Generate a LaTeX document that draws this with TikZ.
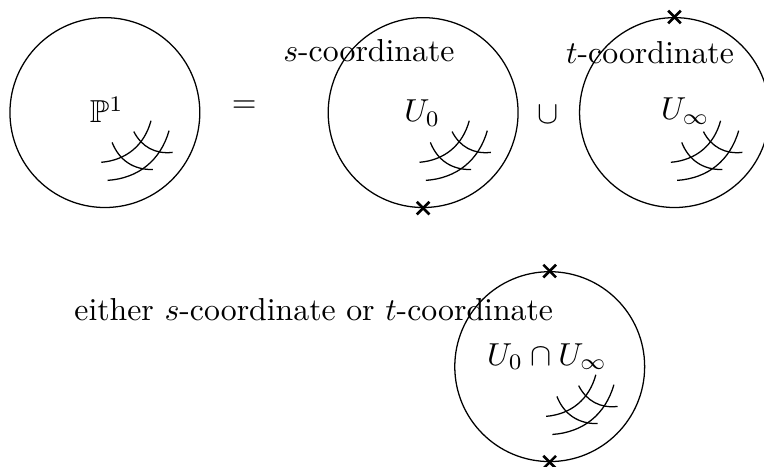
\documentclass[tikz,border=0pt]{standalone}
\usepackage{tikz}
\usepackage{amsmath}
\usepackage{amssymb}
\usetikzlibrary{shapes.misc, positioning, calc}

% four small curves standing for local coordinate lines
\newcommand{\gridlines}[1]{%
    \begin{scope}[shift={(#1.center)}]
        \draw (-0.04,-0.55) to[bend right=35] (0.51,-0.09);
        \draw (0.03,-0.75) to[bend right=35] (0.71,-0.20);
        \draw (0.08,-0.33) to[bend right=35] (0.53,-0.63);
        \draw (0.32,-0.21) to[bend right=35] (0.75,-0.44);
    \end{scope}}

\begin{document}
\begin{tikzpicture}[
    chart/.style={draw, circle, minimum size=2.1cm, inner sep=0pt},
    puncture/.style={draw, cross out, minimum size=3.2pt, inner sep=0pt, line width=0.8pt},
    label/.style={inner sep=1pt}
]
    \useasboundingbox (0,0) rectangle (8.45,5.155);

    % Whole line
    \node[chart] (whole) at (1.16,3.91) {};
    \node[label] (pone) at (1.18,3.94) {$\mathbb{P}^1$};
    \node[label] (eq) at (2.70,3.97) {$=$};

    % Chart with s
    \node[chart] (uzero) at (4.68,3.91) {};
    \node[label] (uzerolbl) at (4.67,3.90) {$U_0$};
    \node[label] (scoord) at (4.08,4.60) {$s$-coordinate};
    \node[puncture] (szero) at (uzero.south) {};

    \node[label] (cup) at (6.06,3.89) {$\cup$};

    % Chart with t
    \node[chart] (uinf) at (7.46,3.91) {};
    \node[label] (uinflbl) at (7.58,3.93) {$U_\infty$};
    \node[label] (tcoord) at (7.19,4.57) {$t$-coordinate};
    \node[puncture] (tzero) at (uinf.north) {};

    % Overlap
    \node[chart] (both) at (6.08,1.10) {};
    \node[label] (bothlbl) at (6.05,1.21) {$U_0 \cap U_\infty$};
    \node[label] (either) at (3.47,1.73) {either $s$-coordinate or $t$-coordinate};
    \node[puncture] (btop) at (both.north) {};
    \node[puncture] (bbot) at (both.south) {};

    % Coordinate lines
    \gridlines{whole}
    \gridlines{uzero}
    \gridlines{uinf}
    \gridlines{both}
\end{tikzpicture}
\end{document}
